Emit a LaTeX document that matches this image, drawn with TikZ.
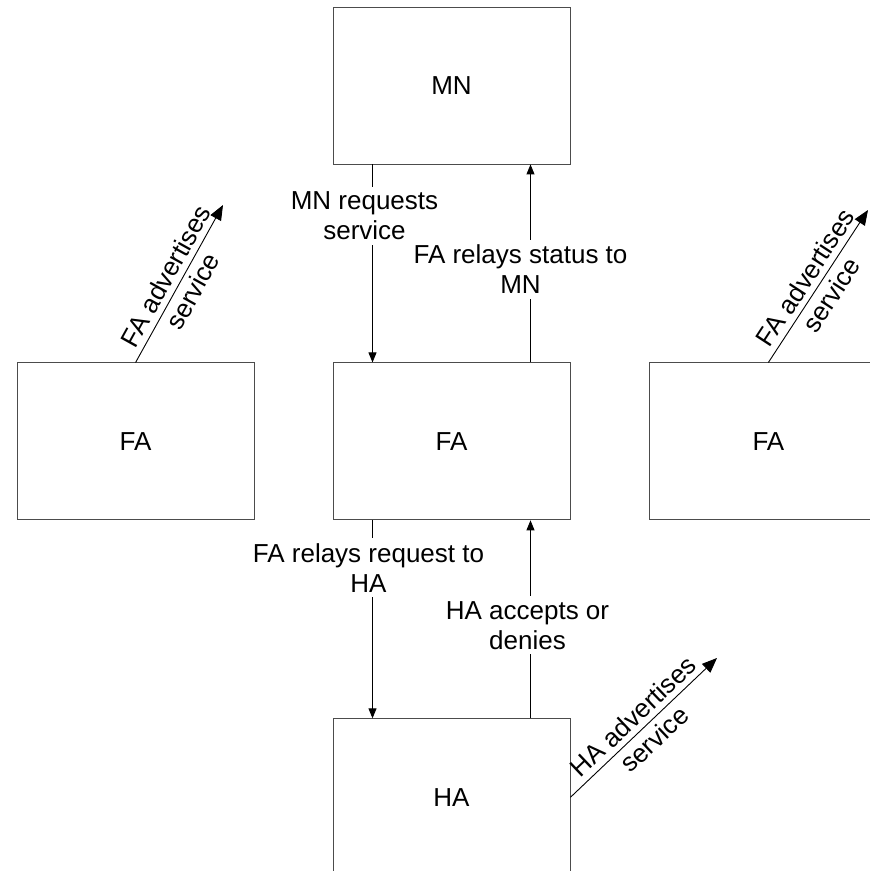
\documentclass[tikz,border=0pt]{standalone}
\usepackage{fontspec}
\setmainfont{Liberation Sans}
\usetikzlibrary{positioning,arrows.meta}

\begin{document}
\begin{tikzpicture}[x=1pt, y=1pt,
  ent/.style={draw=black!70, line width=0.9pt, minimum width=237pt, minimum height=157pt, inner sep=0pt, font=\fontsize{26}{30}\selectfont},
  msg/.style={-{Triangle[length=10pt,width=8pt]}, line width=0.9pt},
  adv/.style={-{Triangle[length=15pt,width=12pt]}, line width=0.9pt},
  lbl/.style={fill=white, align=center, inner xsep=1pt, inner ysep=5pt, font=\fontsize{26}{30}\selectfont},
  slbl/.style={sloped, align=center, inner sep=0pt, font=\fontsize{26}{31}\selectfont}
]
\useasboundingbox (0,0) rectangle (870,871);
\clip (0,0) rectangle (870,871);

% entities
\node[ent] (mn) at (451.5,785.5) {MN};
\node[ent, below=198pt of mn] (fa) {FA};
\node[ent, left=78pt of fa] (faL) {FA};
\node[ent, right=79pt of fa] (faR) {FA};
\node[ent, below=198pt of fa] (ha) {HA};

% free ends of the advertisements
\coordinate (adL) at (223,666);
\coordinate (adR) at (868,661);
\coordinate (adH) at (717,213);

% registration messages
\draw[msg] ([xshift=-79pt]mn.south) -- ([xshift=-79pt]fa.north)
  node[lbl, pos=0.26, xshift=-8pt] {MN requests\\service};
\draw[msg] ([xshift=79pt]fa.north) -- ([xshift=79pt]mn.south)
  node[lbl, pos=0.47, xshift=-10pt] {FA relays status to\\MN};
\draw[msg] ([xshift=-79pt]fa.south) -- ([xshift=-79pt]ha.north)
  node[lbl, pos=0.24, xshift=-4pt] {FA relays request to\\HA};
\draw[msg] ([xshift=79pt]ha.north) -- ([xshift=79pt]fa.south)
  node[lbl, pos=0.47, xshift=-3pt] {HA accepts or\\denies};

% agent advertisements
\draw[adv] (faL.north) -- (adL) node[slbl, midway] {FA advertises\\service};
\draw[adv] (faR.north) -- (adR) node[slbl, midway] {FA advertises\\service};
\draw[adv] (ha.east) -- (adH) node[slbl, midway] {HA advertises\\service};

\end{tikzpicture}
\end{document}
